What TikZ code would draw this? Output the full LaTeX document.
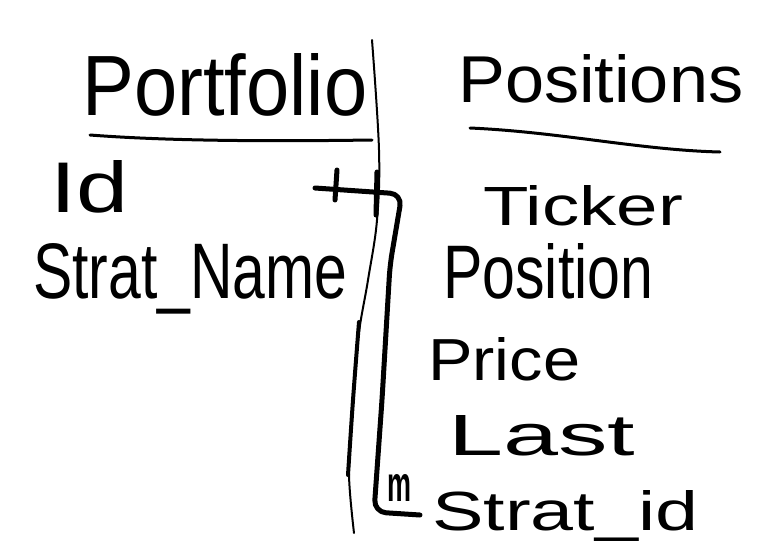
\documentclass[tikz,border=0pt]{standalone}
\usepackage{fontspec}
\setmainfont{Liberation Sans}
\usepackage{graphicx}
\newcommand{\fitt}[3]{\resizebox{#1}{#2}{#3}}
\begin{document}
\begin{tikzpicture}[x=1pt,y=-1pt,
  lbl/.style={anchor=base west, inner sep=0pt, font=\fontsize{40}{48}\selectfont},
  ink/.style={line width=5pt, line cap=round, line join=round},
  uline/.style={line width=3pt, line cap=round},
  divider/.style={line width=2pt, line cap=round, line join=round}]
\useasboundingbox (0,0) rectangle (761,555);
% Portfolio table
\node[lbl] (portfolio) at (82,115) {\fitt{285pt}{62pt}{Portfolio}};
\node[lbl] (id) at (50,212) {\fitt{78pt}{52pt}{Id}};
\node[lbl] (stratname) at (33,298) {\fitt{314pt}{55pt}{Strat\_Name}};
% Positions table
\node[lbl] (positions) at (458,102) {\fitt{285pt}{48pt}{Positions}};
\node[lbl] (ticker) at (483,225) {\fitt{200pt}{40pt}{Ticker}};
\node[lbl] (position) at (443,298) {\fitt{210pt}{55pt}{Position}};
\node[lbl] (price) at (428,380) {\fitt{152pt}{43pt}{Price}};
\node[lbl] (last) at (448,455) {\fitt{187pt}{40pt}{Last}};
\node[lbl] (stratid) at (432,530) {\fitt{266pt}{40pt}{Strat\_id}};
\node[lbl] (many) at (387,501) {\fitt{24pt}{27pt}{\bfseries m}};
% underlines
\coordinate (pu1) at (90,135);
\coordinate (pu2) at (372,140);
\draw[uline] (pu1) .. controls (180,142) and (300,141) .. (pu2);
\coordinate (qu1) at (470,128);
\coordinate (qu2) at (720,152);
\draw[uline] (qu1) .. controls (560,132) and (640,150) .. (qu2);
% divider
\coordinate (d1) at (372,40);
\coordinate (d2) at (354,533);
\draw[divider] plot[smooth, tension=0.6] coordinates {(d1) (379,150) (377,220) (368,280) (358,340) (352,420) (349,475) (d2)};
\draw[line width=4pt, line cap=round] plot[smooth, tension=0.6] coordinates {(359,322) (353,400) (348,475)};
% relationship connector
\coordinate (c1) at (315,188);
\coordinate (c2) at (420,515);
\draw[ink, rounded corners=12pt] (c1) -- (402,194) -- (390,265) -- (382,400) -- (374,512) -- (c2);
\draw[ink] (337,170) -- (335,200);
\draw[ink] (377,172) -- (376,215);
\end{tikzpicture}
\end{document}
